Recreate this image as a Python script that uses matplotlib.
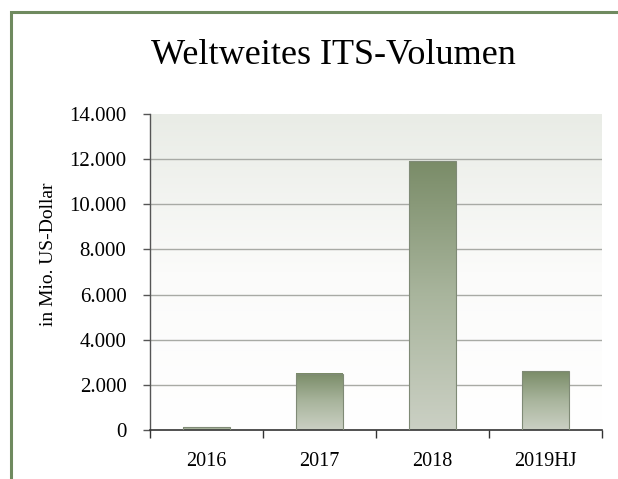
import numpy as np
import matplotlib.pyplot as plt
from matplotlib.patches import Rectangle
from matplotlib.colors import LinearSegmentedColormap

plt.rcParams['font.family'] = ['Liberation Serif', 'DejaVu Serif']

# Daten (in Mio. US-Dollar)
jahre = ['2016', '2017', '2018', '2019HJ']
volumen = [120, 2500, 11900, 2600]
y_ticks = [0, 2000, 4000, 6000, 8000, 10000, 12000, 14000]
y_labels = ['0', '2.000', '4.000', '6.000', '8.000', '10.000', '12.000', '14.000']

fig = plt.figure(figsize=(6.18, 4.79), dpi=100)
fig.patch.set_facecolor('white')

# grüner Rahmen (rechts und unten abgeschnitten)
fig.patches.append(Rectangle((11 / 618, -0.05), 1.2, 0.05 + (479 - 12) / 479,
                             transform=fig.transFigure, fill=False,
                             edgecolor='#6f8a5f', linewidth=2.2))

ax = fig.add_axes([150 / 618, 49 / 479, 452 / 618, 316 / 479])
ax.set_xlim(-0.5, len(jahre) - 0.5)
ax.set_ylim(0, 14000)

# Hintergrundverlauf der Zeichenfläche
bg = np.linspace(0, 1, 256).reshape(-1, 1)
bg_cmap = LinearSegmentedColormap.from_list('bg', ['#ffffff', '#fbfbfa', '#e9ece6'])
ax.imshow(bg, cmap=bg_cmap, extent=(0, 1, 0, 1), transform=ax.transAxes,
          aspect='auto', origin='lower', zorder=0)
ax.set_facecolor('white')

# Gitterlinien
for y in y_ticks[1:-1]:
    ax.axhline(y, color='#a8aaa5', linewidth=1.0, zorder=1)

# Balken mit Verlauf (oben dunkelgrün, unten hell)
bar_cmap = LinearSegmentedColormap.from_list('bar', ['#cbd0c4', '#a9b59d', '#7a8c68'])
grad = np.linspace(0, 1, 256).reshape(-1, 1)
breite = 0.41
bars = ax.bar(range(len(jahre)), volumen, width=breite, facecolor='none',
              edgecolor='#7f8a76', linewidth=0.8, zorder=3)
for rect in bars:
    x0 = rect.get_x()
    h = rect.get_height()
    ax.imshow(grad, cmap=bar_cmap, extent=(x0, x0 + breite, 0, h),
              aspect='auto', origin='lower', zorder=2)
ax.set_xlim(-0.5, len(jahre) - 0.5)
ax.set_ylim(0, 14000)

# Achsen
for s in ['top', 'right']:
    ax.spines[s].set_visible(False)
ax.spines['left'].set_color('#555555')
ax.spines['bottom'].set_color('#333333')
ax.spines['left'].set_linewidth(1.0)
ax.spines['bottom'].set_linewidth(1.2)

ax.set_yticks(y_ticks)
ax.set_yticklabels(y_labels, fontsize=15)
ax.tick_params(axis='y', length=5, width=1.0, color='#555555', pad=12)

ax.set_xticks(range(len(jahre)))
ax.set_xticklabels(jahre, fontsize=14.5)
ax.tick_params(axis='x', length=0, pad=16)
ax.set_xticks(np.arange(-0.5, len(jahre), 1.0), minor=True)
ax.tick_params(axis='x', which='minor', length=6, width=1.0, color='#333333')

ax.set_ylabel('in Mio. US-Dollar', fontsize=14)
ax.yaxis.set_label_coords(-0.205, 0.555)

fig.text(333 / 618, 1 - 55 / 479, 'Weltweites ITS-Volumen', fontsize=26,
         ha='center', va='center')

fig.savefig('out.png', dpi=100)
